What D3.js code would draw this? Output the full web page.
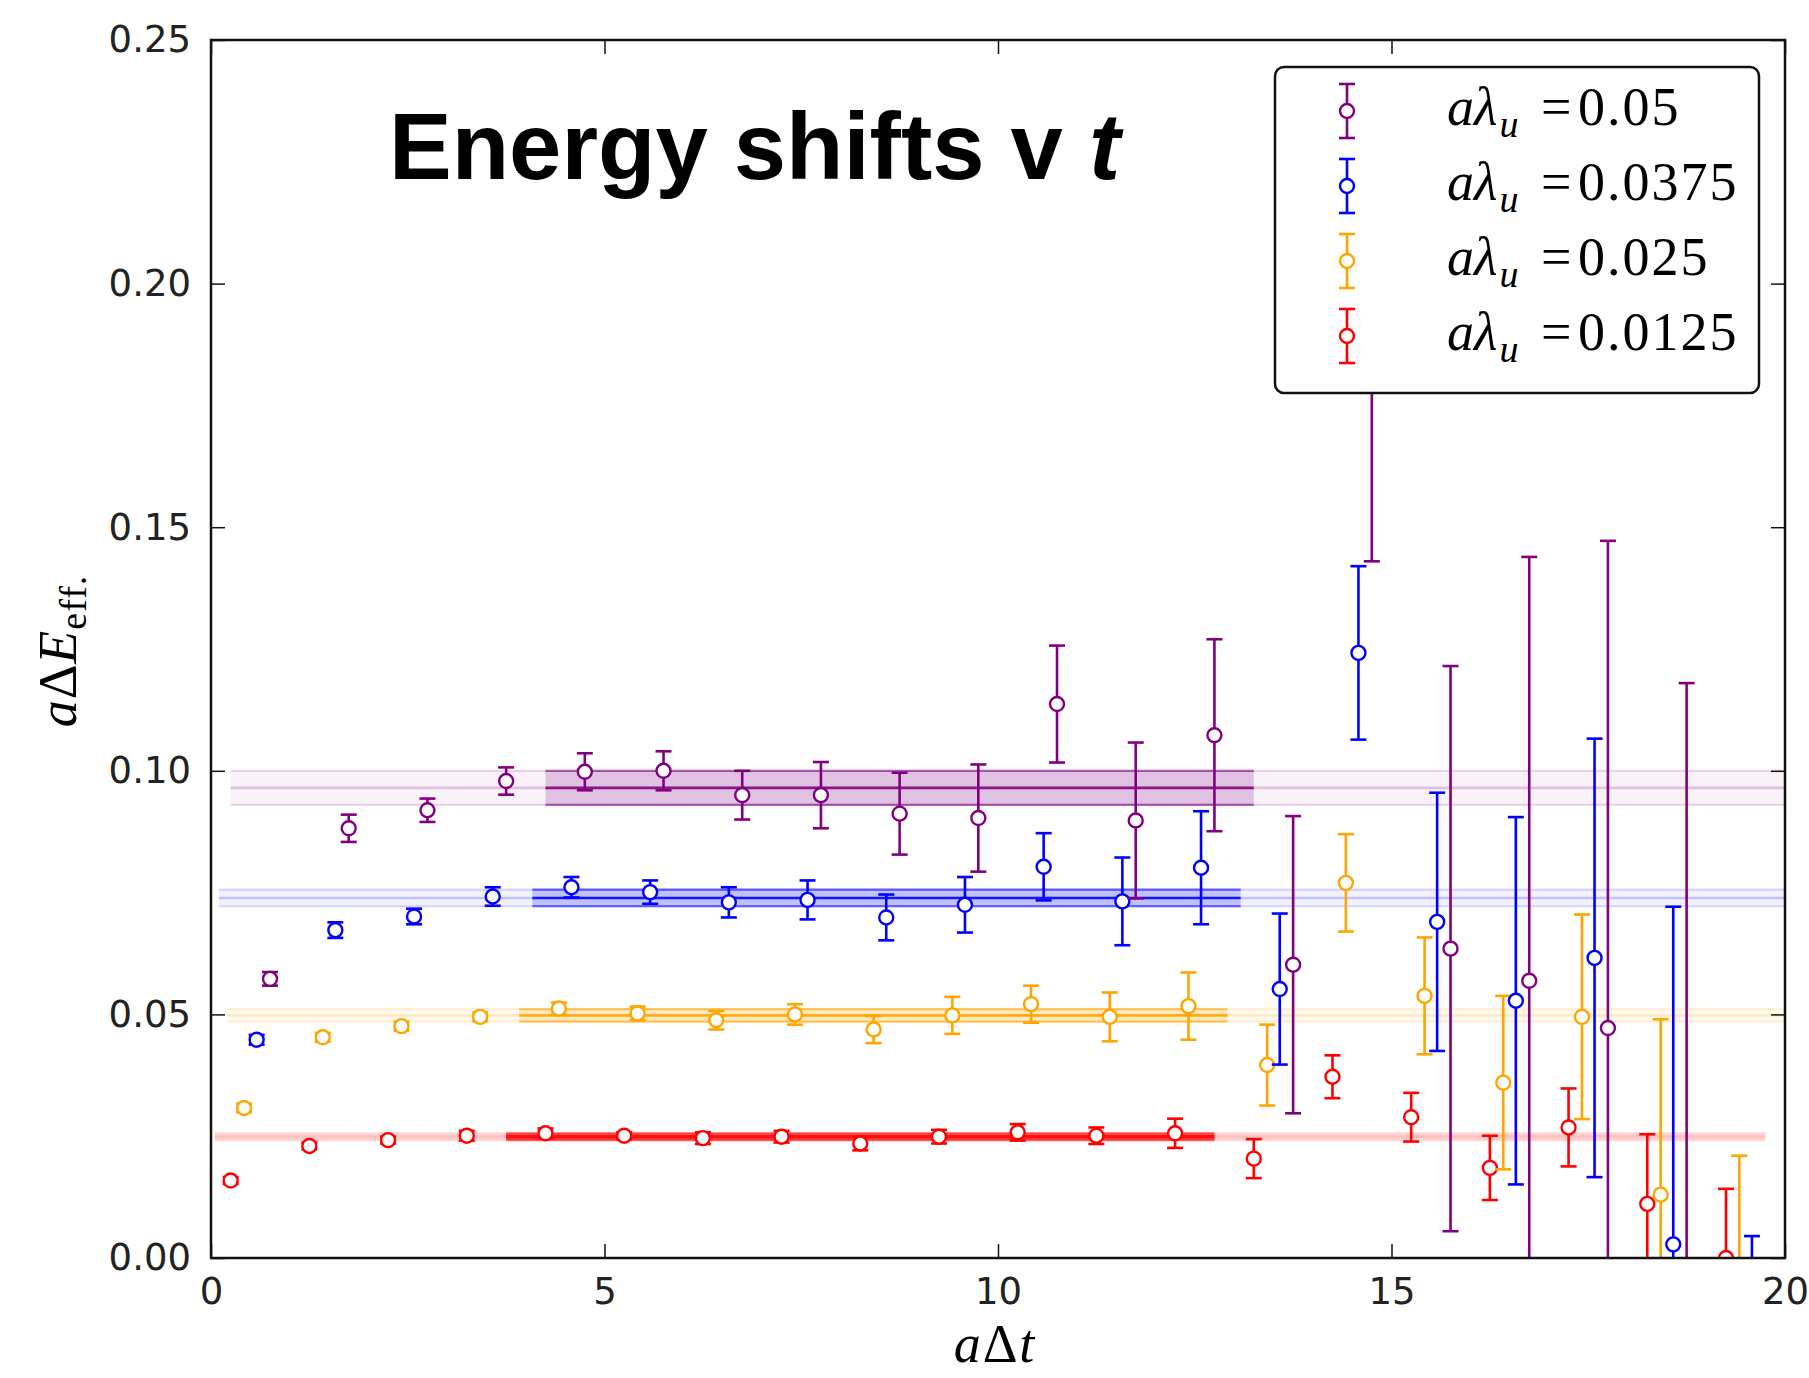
<!DOCTYPE html>
<html>
<head>
<meta charset="utf-8">
<script src="https://cdn.jsdelivr.net/npm/d3@7"></script>
<style>
  body { margin: 0; background: #fff; }
  .tick text { font-family: "DejaVu Sans", sans-serif; fill: #222; }
</style>
</head>
<body>
<svg id="chart" width="1809" height="1378"></svg>
<script>
// legend order: purple, blue, orange, red
var seriesLabels = ["0.05", "0.0375", "0.025", "0.0125"]
var seriesColors = ["purple", "blue", "orange", "red"]

// a lambda_u = 0.05
var xPurple = [0.75, 1.75, 2.75, 3.75, 4.75, 5.75, 6.75, 7.75, 8.75, 9.75, 10.75, 11.75, 12.75, 13.75, 14.75, 15.75, 16.75, 17.75, 18.75]
var yPurple = [0.0573, 0.0882, 0.0919, 0.0979, 0.0998, 0.1000, 0.0950, 0.0950, 0.0912, 0.0903, 0.1137, 0.0898, 0.1073, 0.0602, 0.190, 0.0635, 0.0569, 0.0472, -0.02]
var ePurple = [0.0014, 0.0028, 0.0024, 0.0028, 0.0038, 0.0040, 0.0050, 0.0068, 0.0084, 0.0110, 0.0120, 0.0160, 0.0197, 0.0305, 0.047, 0.0580, 0.0870, 0.1000, 0.138]

// a lambda_u = 0.0375
var xBlue = [0.58, 1.58, 2.58, 3.58, 4.58, 5.58, 6.58, 7.58, 8.58, 9.58, 10.58, 11.58, 12.58, 13.58, 14.58, 15.58, 16.58, 17.58, 18.58, 19.58]
var yBlue = [0.0448, 0.0673, 0.0701, 0.0742, 0.0761, 0.0751, 0.0730, 0.0735, 0.0699, 0.0725, 0.0803, 0.0732, 0.0801, 0.0552, 0.1242, 0.0690, 0.0528, 0.0616, 0.0028, -0.05]
var eBlue = [0.0010, 0.0016, 0.0016, 0.0019, 0.0021, 0.0024, 0.0031, 0.0040, 0.0047, 0.0057, 0.0069, 0.0090, 0.0116, 0.0155, 0.0178, 0.0265, 0.0377, 0.0450, 0.0693, 0.0545]

// a lambda_u = 0.025
var xOrange = [0.42, 1.42, 2.42, 3.42, 4.42, 5.42, 6.42, 7.42, 8.42, 9.42, 10.42, 11.42, 12.42, 13.42, 14.42, 15.42, 16.42, 17.42, 18.42, 19.42]
var yOrange = [0.0308, 0.0453, 0.0476, 0.0495, 0.0512, 0.0502, 0.0488, 0.0500, 0.0469, 0.0498, 0.0521, 0.0495, 0.0517, 0.0396, 0.0770, 0.0538, 0.0360, 0.0495, 0.0130, -0.015]
var eOrange = [0.0009, 0.0009, 0.0009, 0.0009, 0.0012, 0.0014, 0.0019, 0.0021, 0.0028, 0.0038, 0.0038, 0.0050, 0.0069, 0.0083, 0.0100, 0.0120, 0.0178, 0.0210, 0.0360, 0.0360]

// a lambda_u = 0.0125
var xRed = [0.25, 1.25, 2.25, 3.25, 4.25, 5.25, 6.25, 7.25, 8.25, 9.25, 10.25, 11.25, 12.25, 13.25, 14.25, 15.25, 16.25, 17.25, 18.25, 19.25]
var yRed = [0.0159, 0.0230, 0.0242, 0.0251, 0.0256, 0.0251, 0.0246, 0.0249, 0.0235, 0.0249, 0.0258, 0.0251, 0.0256, 0.0204, 0.0372, 0.0289, 0.0185, 0.0268, 0.0111, 0.0000]
var eRed = [0.0007, 0.0007, 0.0007, 0.0010, 0.0010, 0.0007, 0.0012, 0.0012, 0.0014, 0.0014, 0.0017, 0.0017, 0.0030, 0.0040, 0.0044, 0.0050, 0.0066, 0.0080, 0.0143, 0.0142]

// plateau fits (centre, error, fit window, faint extension)
var fitCenter = [0.0965, 0.0739, 0.0498, 0.0249]
var fitErr = [0.0035, 0.0017, 0.0013, 0.0007]
var fitFrom = [4.25, 4.0833, 3.9167, 3.75]
var fitTo = [13.25, 13.0833, 12.9167, 12.75]
var faintFrom = [0.25, 0.1, 0.2, 0.05]
var faintTo = [20, 20, 20, 19.75]

var xTicks = [0, 5, 10, 15, 20]
var yTicks = [0, 0.05, 0.10, 0.15, 0.20, 0.25]

var allX = [xPurple, xBlue, xOrange, xRed]
var allY = [yPurple, yBlue, yOrange, yRed]
var allE = [ePurple, eBlue, eOrange, eRed]

var box = {left: 211, right: 1785, top: 40, bottom: 1258}

var x = d3.scaleLinear().domain([0, 20]).range([box.left, box.right])
var y = d3.scaleLinear().domain([0, 0.25]).range([box.bottom, box.top])

var svg = d3.select("#chart")

svg.append("defs").append("clipPath").attr("id", "plotclip")
    .append("rect").attr("x", box.left).attr("y", box.top)
    .attr("width", box.right - box.left).attr("height", box.bottom - box.top)

var plot = svg.append("g").attr("clip-path", "url(#plotclip)")

// fit bands: faint over the whole range, stronger inside the fit window
for (let i = 0; i < 4; i++) {
    let c = seriesColors[i]
    let bands = [
        {x0: faintFrom[i], x1: faintTo[i], fill: 0.05, edge: 0.15, mid: 0.2},
        {x0: fitFrom[i], x1: fitTo[i], fill: i == 3 ? 0.4 : 0.2, edge: 0.55, mid: 0.85}
    ]
    bands.forEach(function(b) {
        plot.append("rect")
            .attr("x", x(b.x0)).attr("width", x(b.x1) - x(b.x0))
            .attr("y", y(fitCenter[i] + fitErr[i]))
            .attr("height", y(fitCenter[i] - fitErr[i]) - y(fitCenter[i] + fitErr[i]))
            .attr("fill", c).attr("fill-opacity", b.fill)
        ;[fitCenter[i] + fitErr[i], fitCenter[i] - fitErr[i]].forEach(function(v) {
            plot.append("line")
                .attr("x1", x(b.x0)).attr("x2", x(b.x1))
                .attr("y1", y(v)).attr("y2", y(v))
                .attr("stroke", c).attr("stroke-width", 2.2).attr("stroke-opacity", b.edge)
        })
        plot.append("line")
            .attr("x1", x(b.x0)).attr("x2", x(b.x1))
            .attr("y1", y(fitCenter[i])).attr("y2", y(fitCenter[i]))
            .attr("stroke", c).attr("stroke-width", i == 3 ? 4 : 2.6).attr("stroke-opacity", b.mid)
    })
}

// error bars + open circles, red drawn first so purple sits on top
var capW = 8, rad = 7
for (let i = 3; i >= 0; i--) {
    let c = seriesColors[i]
    let pts = allX[i].map((v, k) => ({x: v, y: allY[i][k], e: allE[i][k]}))
    let g = plot.append("g")
    let bars = g.selectAll(".bar").data(pts).enter().append("g")
    bars.append("line")
        .attr("x1", d => x(d.x)).attr("x2", d => x(d.x))
        .attr("y1", d => y(d.y - d.e)).attr("y2", d => y(d.y + d.e))
        .attr("stroke", c).attr("stroke-width", 2.6)
    bars.append("line")
        .attr("x1", d => x(d.x) - capW).attr("x2", d => x(d.x) + capW)
        .attr("y1", d => y(d.y - d.e)).attr("y2", d => y(d.y - d.e))
        .attr("stroke", c).attr("stroke-width", 2.6)
    bars.append("line")
        .attr("x1", d => x(d.x) - capW).attr("x2", d => x(d.x) + capW)
        .attr("y1", d => y(d.y + d.e)).attr("y2", d => y(d.y + d.e))
        .attr("stroke", c).attr("stroke-width", 2.6)
    bars.append("circle")
        .attr("cx", d => x(d.x)).attr("cy", d => y(d.y)).attr("r", rad)
        .attr("fill", "white").attr("stroke", c).attr("stroke-width", 2.4)
}

// axes, ticks pointing inward on all four sides
var tickLen = 14
svg.append("g").attr("transform", `translate(0,${box.bottom})`)
    .call(d3.axisBottom(x).tickValues(xTicks).tickSizeInner(-tickLen).tickSizeOuter(0).tickPadding(20).tickFormat(d3.format("d")))
svg.append("g").attr("transform", `translate(${box.left},0)`)
    .call(d3.axisLeft(y).tickValues(yTicks).tickSizeInner(-tickLen).tickSizeOuter(0).tickPadding(20).tickFormat(d3.format(".2f")))
svg.append("g").attr("transform", `translate(0,${box.top})`)
    .call(d3.axisTop(x).tickValues(xTicks).tickSizeInner(-tickLen).tickSizeOuter(0).tickFormat(""))
svg.append("g").attr("transform", `translate(${box.right},0)`)
    .call(d3.axisRight(y).tickValues(yTicks).tickSizeInner(-tickLen).tickSizeOuter(0).tickFormat(""))

svg.selectAll(".tick text").style("font-size", "37px")
svg.selectAll(".tick line").attr("stroke", "#111").attr("stroke-width", 1.5)
svg.append("rect").attr("x", box.left).attr("y", box.top)
    .attr("width", box.right - box.left).attr("height", box.bottom - box.top)
    .attr("fill", "none").attr("stroke", "#111").attr("stroke-width", 2.5)
svg.selectAll(".domain").remove()

// title
var title = svg.append("text").attr("x", 389).attr("y", 179)
    .style("font-family", "'Liberation Sans', Arial, sans-serif").style("font-weight", "bold").style("font-size", "94px")
title.append("tspan").text("Energy shifts v ")
title.append("tspan").style("font-style", "italic").text("t")

// axis labels
var serif = "'Liberation Serif', 'DejaVu Serif', serif"
var xl = svg.append("text").attr("x", 995).attr("y", 1362).attr("text-anchor", "middle")
    .style("font-family", serif).style("font-size", "54px").style("letter-spacing", "2px")
xl.append("tspan").style("font-style", "italic").text("a")
xl.append("tspan").text("Δ")
xl.append("tspan").style("font-style", "italic").text("t")

var yl = svg.append("text").attr("transform", "translate(76,651) rotate(-90)").attr("text-anchor", "middle")
    .style("font-family", serif).style("font-size", "54px").style("letter-spacing", "1px")
yl.append("tspan").style("font-style", "italic").text("a")
yl.append("tspan").text("Δ")
yl.append("tspan").style("font-style", "italic").text("E")
yl.append("tspan").attr("dy", 10).style("font-size", "38px").text("eff.")

// legend
var lg = svg.append("g")
lg.append("rect").attr("x", 1275).attr("y", 67).attr("width", 484).attr("height", 326).attr("rx", 9)
    .attr("fill", "white").attr("stroke", "#111").attr("stroke-width", 2.5)
for (let i = 0; i < 4; i++) {
    let cy = 111 + i * 75, cx = 1347, c = seriesColors[i]
    lg.append("line").attr("x1", cx).attr("x2", cx).attr("y1", cy - 27).attr("y2", cy + 27).attr("stroke", c).attr("stroke-width", 2.6)
    lg.append("line").attr("x1", cx - capW).attr("x2", cx + capW).attr("y1", cy - 27).attr("y2", cy - 27).attr("stroke", c).attr("stroke-width", 2.6)
    lg.append("line").attr("x1", cx - capW).attr("x2", cx + capW).attr("y1", cy + 27).attr("y2", cy + 27).attr("stroke", c).attr("stroke-width", 2.6)
    lg.append("circle").attr("cx", cx).attr("cy", cy).attr("r", rad).attr("fill", "white").attr("stroke", c).attr("stroke-width", 2.4)
    let t = lg.append("text").attr("x", 1447).attr("y", cy + 14)
        .style("font-family", serif).style("font-size", "54px")
    t.append("tspan").style("font-style", "italic").text("aλ")
    t.append("tspan").attr("dy", 12).attr("dx", 2).style("font-style", "italic").style("font-size", "38px").text("u")
    t.append("tspan").attr("dy", -12).attr("x", 1541).text("=")
    t.append("tspan").attr("x", 1578).style("letter-spacing", "2px").text(seriesLabels[i])
}
</script>
</body>
</html>
